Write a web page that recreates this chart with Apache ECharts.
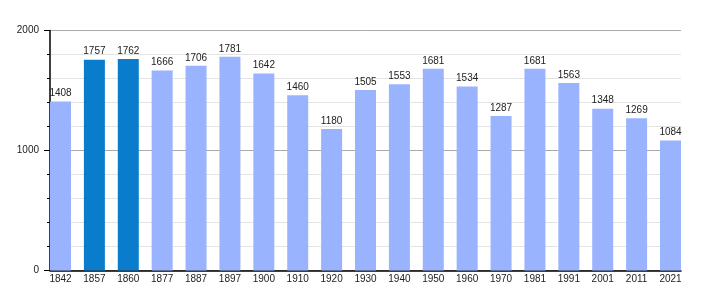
<!DOCTYPE html>
<html><head><meta charset="utf-8">
<script src="https://cdn.jsdelivr.net/npm/echarts@6/dist/echarts.min.js"></script>
<style>html,body{margin:0;padding:0;background:#fff}#c{width:710px;height:300px}</style>
</head><body><div id="c"></div>
<script>
const years = ["1842","1857","1860","1877","1887","1897","1900","1910","1920","1930","1940","1950","1960","1970","1981","1991","2001","2011","2021"];
const population = [1408,1757,1762,1666,1706,1781,1642,1460,1180,1505,1553,1681,1534,1287,1681,1563,1348,1269,1084];
const highlighted = ["1857","1860"];
const yTicks = [0, 1000, 2000];

const LIGHT = "#99b3ff", DARK = "#0a7ccc";
const font = "'Liberation Sans', Arial, sans-serif";
const chart = echarts.init(document.getElementById('c'), null, {renderer:'canvas'});
const plotL = 50, plotR = 681, plotTop = 30.5, plotBottom = 270.5;
const n = years.length, barW = 21;
const step = (plotR - plotL - barW) / (n - 1);
const barGridL = plotL + barW/2 - step/2;
const barGridR = plotR - barW/2 + step/2;

chart.setOption({
  animation:false,
  grid:[
    {left:plotL, right:710-plotR, top:plotTop, bottom:300-plotBottom, containLabel:false},
    {left:barGridL, right:710-barGridR, top:plotTop, bottom:300-plotBottom, containLabel:false}
  ],
  xAxis:[
    {gridIndex:0, type:'value', min:0, max:1, show:true,
     axisLine:{show:true, lineStyle:{color:'#000', width:1.5}}, axisTick:{show:false}, axisLabel:{show:false}, splitLine:{show:false}},
    {gridIndex:1, type:'category', data:years, boundaryGap:true,
     axisLine:{show:false}, axisTick:{show:false},
     axisLabel:{color:'#222', fontFamily:font, fontSize:10, margin:4, interval:0}}
  ],
  yAxis:[
    {gridIndex:0, type:'value', min:yTicks[0], max:yTicks[yTicks.length-1], interval:1000,
     axisLine:{show:true, lineStyle:{color:'#000', width:1.5}},
     axisTick:{show:true, length:6, lineStyle:{color:'#000'}},
     minorTick:{show:true, splitNumber:5, length:3, lineStyle:{color:'#000'}},
     minorSplitLine:{show:true, lineStyle:{color:'#e3e3e3'}},
     splitLine:{show:true, lineStyle:{color:'#aaaaaa'}},
     axisLabel:{color:'#222', fontFamily:font, fontSize:10, margin:11, formatter:(v)=>String(v)}},
    {gridIndex:1, type:'value', min:yTicks[0], max:yTicks[yTicks.length-1], show:false, splitLine:{show:false}}
  ],
  series:[{
    type:'bar', xAxisIndex:1, yAxisIndex:1, barWidth:barW,
    data: population.map((v,i)=>({value:v, itemStyle:{color: highlighted.includes(years[i]) ? DARK : LIGHT}})),
    label:{show:true, position:'top', distance:3, color:'#222', fontFamily:font, fontSize:10},
    z:3
  }]
});
</script></body></html>
